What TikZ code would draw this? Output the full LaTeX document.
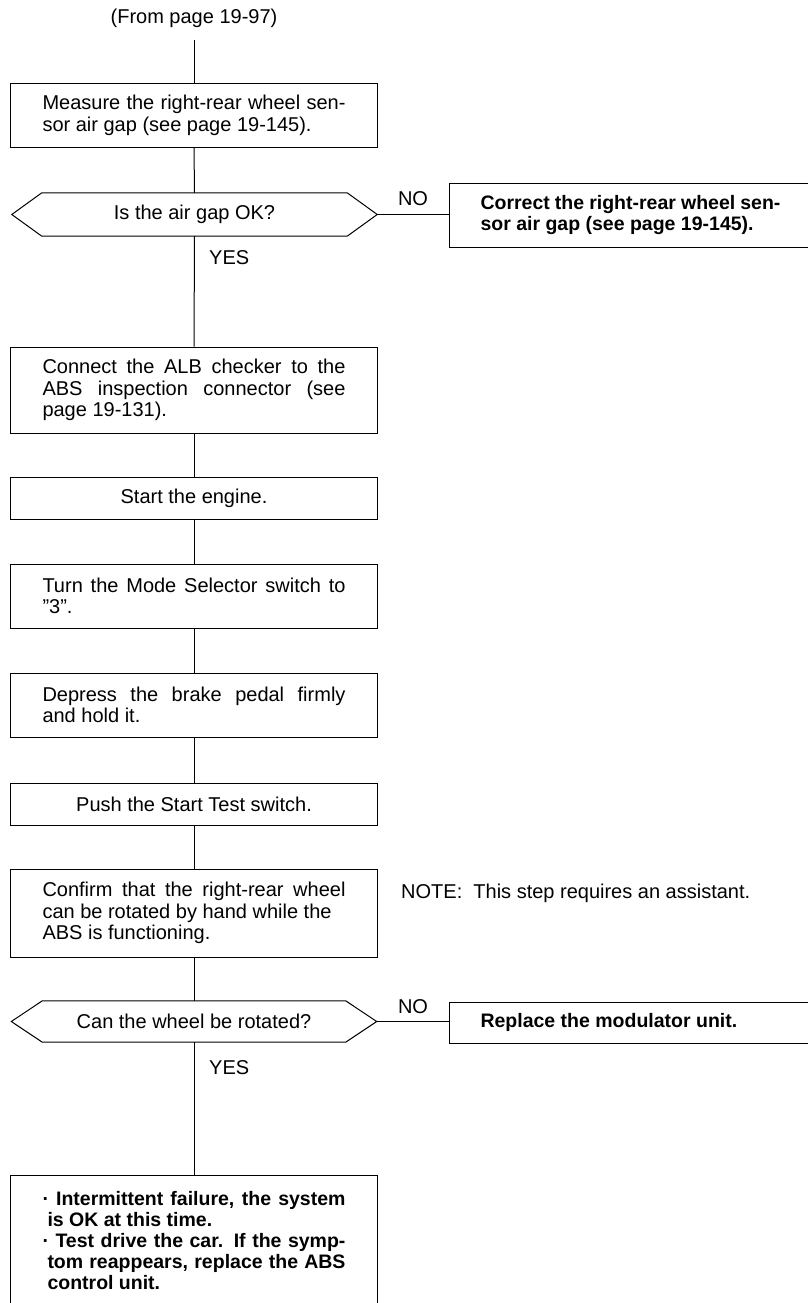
\documentclass[tikz,border=0pt]{standalone}
\usepackage{fontspec}
\newfontfamily\libsans{Liberation Sans}
\newcommand\myreg{\libsans\fontsize{20}{21.5}\selectfont}
\newcommand\mybold{\libsans\bfseries\fontsize{19.5}{21}\selectfont}
\newcommand\jl[1]{\makebox[303pt][s]{#1}}
\newcommand\jr[1]{\makebox[300pt][s]{#1}}
\tikzset{
  conn/.style={line width=1pt},
  box/.style={draw, line width=1pt, minimum width=367pt, inner xsep=0pt, inner ysep=0pt, align=left, font=\myreg},
  cbox/.style={box, align=center},
  rbox/.style={draw, line width=1pt, minimum width=363pt, inner xsep=0pt, inner ysep=0pt, align=left, font=\mybold},
  dec/.style={minimum width=365pt, inner sep=0pt, align=center, font=\myreg},
  lab/.style={font=\myreg, inner sep=0pt},
}
\begin{document}
\begin{tikzpicture}[x=1pt,y=-1pt]
\useasboundingbox (0,0) rectangle (808,1303);
\node[lab] (from) at (194,18) {(From page 19-97)};
\node[box, minimum height=63pt] (b1) at (194,115.5) {\jl{Measure the right-rear wheel sen-}\\sor air gap (see page 19-145).};
\node[dec, minimum height=43pt] (d1) at (194.5,214.5) {Is the air gap OK?};
\draw[line width=1pt] (d1.west) -- ([xshift=30pt]d1.north west) -- ([xshift=-30pt]d1.north east) -- (d1.east) -- ([xshift=-30pt]d1.south east) -- ([xshift=30pt]d1.south west) -- cycle;
\node[rbox, minimum height=64pt] (r1) at (630.5,215) {\jr{Correct the right-rear wheel sen-}\\sor air gap (see page 19-145).};
\node[lab] (no1) at (413,199) {NO};
\node[lab, anchor=west] (yes1) at (209,258) {YES};
\node[box, minimum height=86pt] (b3) at (194,390) {\jl{Connect the ALB checker to the}\\\jl{ABS inspection connector (see}\\page 19-131).};
\node[cbox, minimum height=42pt] (b4) at (194,498) {Start the engine.};
\node[box, minimum height=64pt] (b5) at (194,596) {\jl{Turn the Mode Selector switch to}\\”3”.};
\node[box, minimum height=64pt] (b6) at (194,705) {\jl{Depress the brake pedal firmly}\\and hold it.};
\node[cbox, minimum height=42pt] (b7) at (194,804) {Push the Start Test switch.};
\node[box, minimum height=88pt] (b8) at (194,913) {\jl{Confirm that the right-rear wheel}\\can be rotated by hand while the\\ABS is functioning.};
\node[lab, anchor=west] (note) at (401,893) {NOTE:\ \ This step requires an assistant.};
\node[dec, minimum height=41pt] (d2) at (194,1021.5) {Can the wheel be rotated?};
\draw[line width=1pt] (d2.west) -- ([xshift=31pt]d2.north west) -- ([xshift=-31pt]d2.north east) -- (d2.east) -- ([xshift=-31pt]d2.south east) -- ([xshift=31pt]d2.south west) -- cycle;
\node[rbox, minimum height=41pt] (r2) at (630.5,1022.5) {\makebox[300pt][l]{Replace the modulator unit.}};
\node[lab] (no2) at (413,1007) {NO};
\node[lab, anchor=west] (yes2) at (209,1068) {YES};
\node[box, font=\mybold, minimum height=131pt] (b10) at (194,1240.5) {\jl{·\ Intermittent failure, the system}\\\hspace*{5pt}is OK at this time.\\\jl{·\ Test drive the car. If the symp-}\\\hspace*{5pt}\makebox[298pt][s]{tom reappears, replace the ABS}\\\hspace*{5pt}control unit.};
\draw[conn] ([yshift=-12.5pt]from.south) -- (b1.north);
\draw[conn] (b1.south) -- (d1.north);
\draw[conn] (d1.east) -- (d1.east -| r1.west);
\draw[conn] (d1.south) -- (b3.north);
\draw[conn] (b3.south) -- (b4.north);
\draw[conn] (b4.south) -- (b5.north);
\draw[conn] (b5.south) -- (b6.north);
\draw[conn] (b6.south) -- (b7.north);
\draw[conn] (b7.south) -- (b8.north);
\draw[conn] (b8.south) -- (d2.north);
\draw[conn] (d2.east) -- (d2.east -| r2.west);
\draw[conn] (d2.south) -- (b10.north);
\end{tikzpicture}
\end{document}
